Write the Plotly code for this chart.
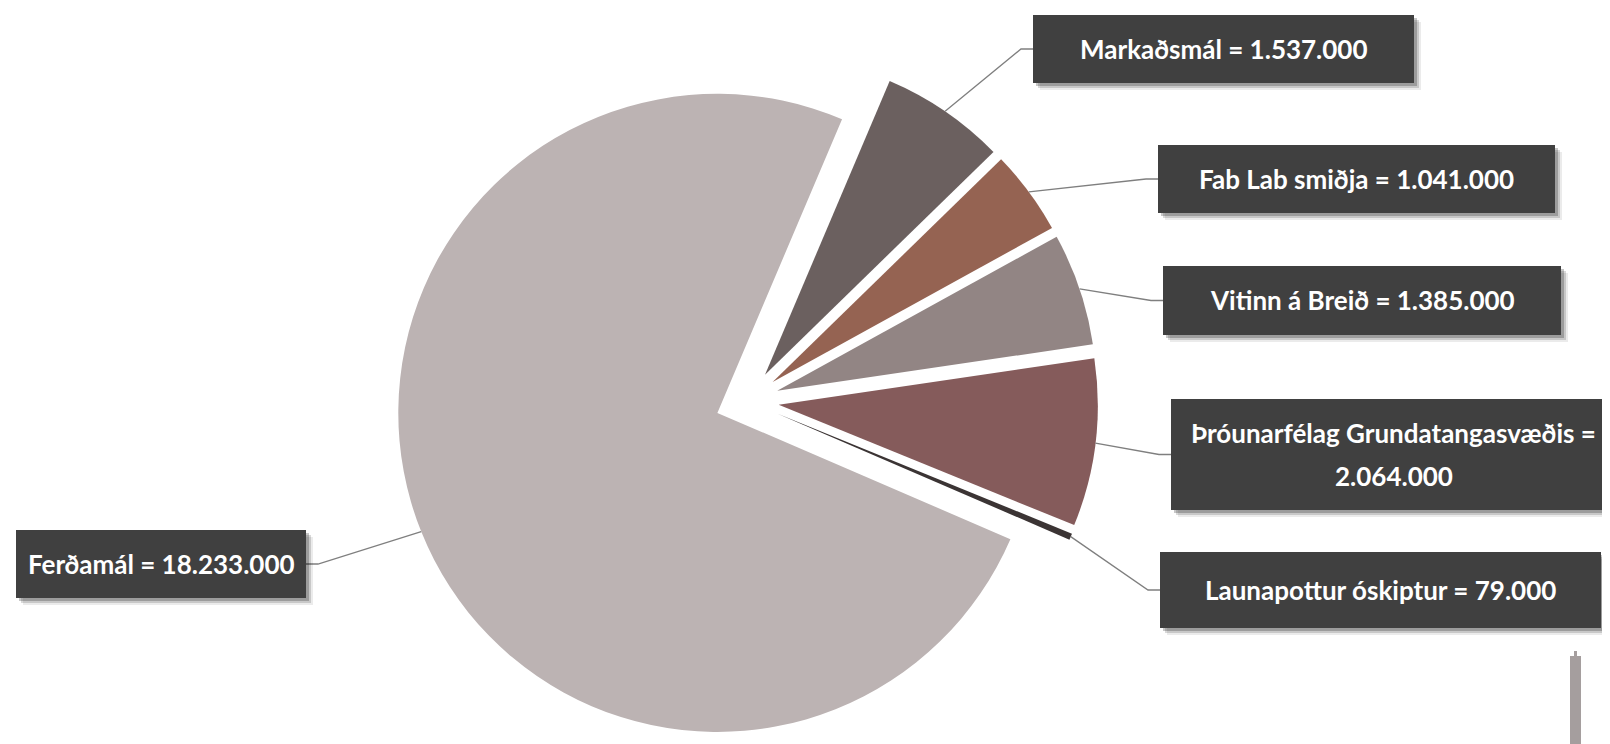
import math
import plotly.graph_objects as go

# ---------------- data ----------------
labels = ["Markaðsmál", "Fab Lab smiðja", "Vitinn á Breið",
          "Þróunarfélag Grundatangasvæðis", "Launapottur óskiptur", "Ferðamál"]
values = [1537000, 1041000, 1385000, 2064000, 79000, 18233000]
colors = ["#6b605f", "#956352", "#928584", "#855b5b", "#3b3434", "#bcb3b3"]

# label boxes in pixels (x0, y0, x1, y1) – layout only
boxes = [(1025, 7, 1406, 75),
         (1150, 137, 1547, 205),
         (1155, 258, 1553, 327),
         (1163, 391, 1608, 502),
         (1152, 544, 1593, 620),
         (8, 522, 298, 590)]
label_side = ["right", "right", "right", "right", "right", "left"]

W, H = 1610, 744
ROT = 23
PULL = 0.10
DOM_X = [0.241, 0.677]
DOM_Y = [0.0, 0.9435]
FONT = dict(family="Lato, Open Sans, sans-serif", size=26, color="white")
LINE_GAP = 43


def fmt(v):
    return f"{v:,}".replace(",", ".")


def label_lines(lab, v):
    s = f"{lab} = {fmt(v)}"
    if len(s) > 32:
        return [f"{lab} =", fmt(v)]
    return [s]


fig = go.Figure(go.Pie(
    labels=labels, values=values, sort=False, direction="clockwise",
    rotation=ROT, pull=[PULL] * len(values), textinfo="none",
    marker=dict(colors=colors, line=dict(width=0)),
    domain=dict(x=DOM_X, y=DOM_Y), hoverinfo="label+value+percent",
    showlegend=False,
))

# replicate plotly's pie geometry to anchor the leader lines on slices
box_w = W * (DOM_X[1] - DOM_X[0])
box_h = H * (DOM_Y[1] - DOM_Y[0])
r = min(box_w, box_h) / (2 + 2 * PULL)
cx = W * (DOM_X[0] + DOM_X[1]) / 2
cy = H * (1 - (DOM_Y[0] + DOM_Y[1]) / 2)
total = sum(values)


def px(x):
    return x / W


def py(y):
    return 1 - y / H


shapes = []
annotations = []
cum = 0
for lab, v, b, side in zip(labels, values, boxes, label_side):
    mid = math.radians(ROT + 360 * (cum + v / 2) / total)
    cum += v
    ax_ = cx + (1 + PULL) * r * math.sin(mid)
    ay_ = cy - (1 + PULL) * r * math.cos(mid)
    x0, y0, x1, y1 = b
    ym = (y0 + y1) / 2
    if side == "right":
        ex, bx = x0 - 12, x0
    else:
        ex, bx = x1 + 12, x1
    shapes.append(dict(type="path", xref="paper", yref="paper",
                       path=f"M {px(ax_)},{py(ay_)} L {px(ex)},{py(ym)} L {px(bx)},{py(ym)}",
                       line=dict(color="#7f7f7f", width=1.3), layer="above"))
    # soft shadow of the box
    for off, op in [(7, 0.08), (5, 0.15), (3, 0.22)]:
        shapes.append(dict(type="rect", xref="paper", yref="paper",
                           x0=px(x0 + off), x1=px(x1 + off),
                           y0=py(y0 + off), y1=py(y1 + off),
                           fillcolor=f"rgba(0,0,0,{op})", line=dict(width=0),
                           layer="above"))
    shapes.append(dict(type="rect", xref="paper", yref="paper",
                       x0=px(x0), x1=px(x1), y0=py(y0), y1=py(y1),
                       fillcolor="#404040", line=dict(width=0), layer="above"))
    lines = label_lines(lab, v)
    n = len(lines)
    for k, t in enumerate(lines):
        yk = ym + (k - (n - 1) / 2) * LINE_GAP
        annotations.append(dict(
            x=px((x0 + x1) / 2), y=py(yk), xref="paper", yref="paper",
            xanchor="center", yanchor="middle", showarrow=False,
            text=f"<b>{t}</b>", align="center", font=FONT,
        ))

# thin grey bar at the bottom right
shapes.append(dict(type="rect", xref="paper", yref="paper",
                   x0=px(1562), x1=px(1573), y0=py(744), y1=py(648),
                   fillcolor="#a59e9e", line=dict(width=0)))
shapes.append(dict(type="rect", xref="paper", yref="paper",
                   x0=px(1566), x1=px(1569), y0=py(648), y1=py(643),
                   fillcolor="#a59e9e", line=dict(width=0)))

fig.update_layout(
    width=W, height=H, margin=dict(l=0, r=0, t=0, b=0),
    paper_bgcolor="white", plot_bgcolor="white",
    shapes=shapes, annotations=annotations,
)

fig.write_html("out.html")
